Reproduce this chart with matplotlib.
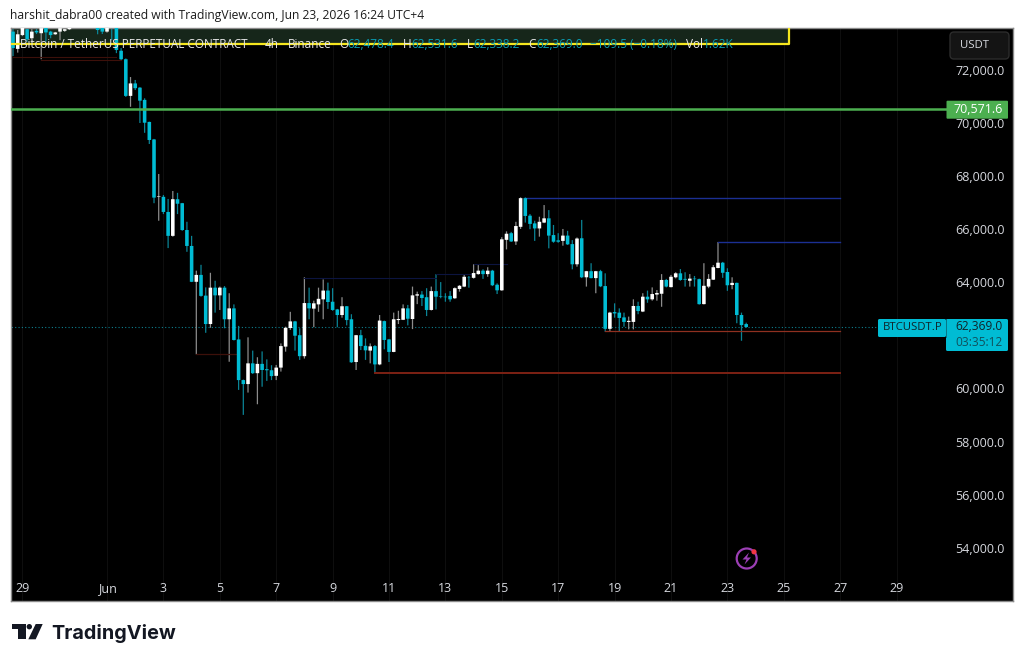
"""
BTCUSDT.P 4h candles with support / resistance levels, TradingView snapshot style.
"""
import numpy as np
import matplotlib
matplotlib.use("Agg")
import matplotlib.pyplot as plt
from matplotlib.patches import Circle, FancyBboxPatch, Polygon, Rectangle

FIRST_BAR = -20  # bar number of the first candle, bar 0 opens on Jun 1

opens = [
    73490, 72840, 73360, 73580, 73240, 73520, 73430, 73630, 73490, 73390, 73490, 73520, 73580,
    73800, 74100, 74300, 74150, 74250, 73900, 73700, 73490, 74000, 73700, 72770, 72450, 71070,
    71540, 71380, 70920, 70090, 69430, 67280, 67270,
    66700, 65800, 67180, 67030, 66020, 65420, 64070, 64330, 63550,
    62480, 63850, 63560, 63850, 62660, 63070, 61900, 60370, 60220, 61000,
    60630, 60980, 60780, 60740, 60530, 60840, 61630, 62330, 62580, 62060,
    61270, 63270, 63060, 63220, 63410, 63740, 63320, 63030, 62820, 63150,
    62660, 61050, 62060, 61660, 61480, 61650, 60960, 62590, 61900, 61430,
    62630, 62640, 63070, 62670, 63550, 63590, 63490, 63010, 63720, 63520,
    63510, 63540, 63450, 63800, 63890, 64250, 64220, 64360, 64490, 64360,
    64490, 63960, 63750, 65650, 65900, 65590, 66140, 67220, 66560, 66270,
    66080, 66300, 66460, 65830, 65630, 65610, 65810, 65490, 64730, 65710,
    64240, 64470, 64210, 64470, 63910, 62300, 62930, 62910, 62730, 62560,
    62560, 63160, 62950, 63510, 63410, 63590, 63620, 64140, 63870, 64240,
    64390, 64180, 64110, 64190, 64170, 63230, 63890, 64150, 64590, 64790,
    64440, 63950, 64030, 62820, 62478.4,
]
highs = [
    73800, 73550, 73900, 73800, 73600, 73650, 73850, 73800, 73520, 73480, 73800, 73680, 73700,
    74300, 74500, 74600, 74400, 74450, 74000, 73900, 73900, 74200, 73900, 72870, 72480, 71780,
    71670, 71400, 70980, 70100, 69450, 68130, 67340,
    67190, 67490, 67420, 67040, 66330, 65800, 64490, 64710, 63860,
    64410, 64110, 63890, 63910, 63640, 63220, 62410, 60390, 61980, 61480,
    61230, 61450, 61150, 60930, 60940, 61750, 62380, 62940, 62600, 62320,
    64240, 63850, 63360, 63850, 64160, 64040, 63830, 63050, 63490, 63160,
    62850, 62070, 62260, 61940, 61750, 61690, 62820, 62610, 61920, 62910,
    62980, 63220, 63200, 63890, 63700, 63720, 63830, 63890, 64360, 64060,
    63640, 63720, 63860, 63950, 64330, 64290, 64730, 64700, 64540, 64620,
    64520, 64010, 65750, 65970, 65950, 66330, 67250, 67250, 66620, 66370,
    66520, 66960, 66770, 66210, 65900, 66060, 65990, 65640, 65740, 66400,
    64480, 64770, 64480, 64520, 64390, 62940, 63260, 63070, 62910, 62760,
    63410, 63320, 63640, 63740, 63860, 63760, 64360, 64180, 64330, 64430,
    64550, 64430, 64360, 64290, 64190, 64770, 64360, 64700, 65570, 64820,
    64580, 64240, 64040, 62910, 62531.6,
]
lows = [
    72570, 72700, 73320, 73110, 73150, 73400, 72450, 73110, 73240, 73370, 73170, 73480, 73550,
    73700, 73900, 74000, 73900, 73800, 73390, 73400, 73450, 73170, 72680, 72420, 71030, 70660,
    71290, 70050, 69680, 69260, 67030, 66370, 66620,
    65340, 65770, 66620, 65990, 65200, 64060, 61340, 63510, 62150,
    62340, 62910, 63010, 62320, 61060, 61860, 60000, 59060, 59900, 60600,
    59460, 60120, 60340, 60370, 60370, 60690, 61440, 62260, 61480, 61130,
    61180, 62660, 62360, 62940, 62660, 63050, 62980, 62360, 62720, 62430,
    61020, 60750, 61500, 61130, 61000, 60650, 60930, 61530, 61050, 61420,
    62480, 62630, 62430, 62290, 63230, 63160, 62780, 62990, 63030, 63450,
    63320, 63320, 63430, 63700, 63870, 63850, 64190, 64340, 64180, 64260,
    63910, 63610, 63730, 65290, 65570, 65460, 66060, 66300, 66050, 65610,
    65770, 66280, 65330, 65540, 65540, 65430, 65460, 64540, 64640, 64210,
    63890, 64200, 63640, 63870, 62190, 62210, 62720, 62210, 62380, 62280,
    62280, 62850, 62930, 63280, 63360, 63360, 63130, 63860, 63860, 64200,
    64110, 63890, 63890, 63890, 63210, 63220, 63830, 64140, 64580, 64220,
    63730, 63790, 62510, 61850, 62338.2,
]
closes = [
    72870, 73390, 73700, 73200, 73490, 73460, 73620, 73460, 73360, 73460, 73620, 73580, 73640,
    74100, 74300, 74150, 74250, 73900, 73550, 73490, 73700, 73700, 72800, 72450, 71070, 71540,
    71360, 70890, 70060, 69410, 67240, 67300, 66700,
    65800, 67180, 67010, 66020, 65420, 64070, 64330, 63540, 62480,
    63850, 63560, 63850, 62660, 63070, 61880, 60370, 60220, 61000, 60630,
    60980, 60750, 60740, 60520, 60840, 61650, 62340, 62580, 62040, 61270,
    63270, 63070, 63260, 63430, 63740, 63310, 63010, 62820, 63150, 62630,
    61040, 62060, 61650, 61490, 61640, 60960, 62610, 61880, 61430, 62660,
    62670, 63070, 62680, 63560, 63600, 63460, 63010, 63720, 63510, 63500,
    63490, 63410, 63830, 63920, 64260, 64240, 64400, 64490, 64360, 64490,
    63940, 63750, 65670, 65880, 65590, 66170, 67220, 66550, 66250, 66080,
    66330, 66460, 65810, 65580, 65580, 65810, 65480, 64730, 65700, 64240,
    64470, 64210, 64470, 63900, 62300, 62910, 62880, 62710, 62560, 62600,
    63160, 62970, 63510, 63410, 63610, 63650, 64140, 63890, 64260, 64390,
    64140, 64150, 64190, 64170, 63230, 63920, 64180, 64620, 64790, 64410,
    63940, 64030, 62820, 62440, 62369.0,
]

price_ticks = [72000, 70000, 68000, 66000, 64000, 62000, 60000, 58000, 56000, 54000]
day_labels = ["29", "Jun", "3", "5", "7", "9", "11", "13", "15", "17", "19", "21", "23", "25", "27", "29"]
day_offsets = [-3, 0, 2, 4, 6, 8, 10, 12, 14, 16, 18, 20, 22, 24, 26, 28]
BARS_PER_DAY = 6

# (first bar, last bar, price, colour, width)
level_lines = [
    (89, 156, 67220, "#1b2f93", 1.0),
    (130, 156, 65570, "#1b2f93", 1.0),
    (57, 156, 60650, "#7d2114", 1.4),
    (106, 156, 62200, "#8f3020", 0.9),
    (42, 70, 64220, "#0c1440", 0.8),
    (70, 78, 64350, "#0c1440", 0.8),
    (78, 85, 64730, "#0c1440", 0.8),
    (19, 28, 61340, "#3d100a", 0.9),
    (-20, 2, 72550, "#3d100a", 0.8),
    (-14, 3, 72420, "#3d100a", 0.8),
]
green_level = 70571.6
last_price = closes[-1]

TEAL = "#00bcd4"
TEAL_WICK = "#0a8496"
TEAL_VALUE = "#0a9db2"
WHITE_WICK = "#8c8c8c"
AXIS_TEXT = "#d6d8de"
TEXT_FONT = ["Open Sans", "DejaVu Sans"]

plt.rcParams["font.family"] = TEXT_FONT

W, H = 1024, 663
fig = plt.figure(figsize=(W / 100, H / 100), dpi=100, facecolor="white")
ax = fig.add_axes([11 / W, 1 - 600.5 / H, 1002 / W, 572.2 / H], facecolor="black")
ax.set_xlim(-20.43, 192.77)
ax.set_ylim(52071, 73615)
ax.set_xticks([])
ax.set_yticks([])
for s in ax.spines.values():
    s.set_color("#8a8a8a")
    s.set_linewidth(1.0)

# faint session grid
for d in day_offsets:
    ax.axvline(d * BARS_PER_DAY, color="#0e0e0e", lw=0.8, zorder=0)

# yellow header box behind the candles
ax.add_patch(Rectangle((-21, 73010), 21 + 145.1, 1000, fc="#16261a", ec="none", zorder=1))
ax.plot([-21, 145.1, 145.1], [73010, 73010, 74000], color="#f5e61e", lw=1.6, zorder=5)

# candles, unsnapped so thin bodies keep their soft edges
bars = np.arange(len(opens)) + FIRST_BAR
o, h, l, c = map(np.array, (opens, highs, lows, closes))
up = c >= o
ax.vlines(bars[up], l[up], h[up], color=WHITE_WICK, lw=0.9, zorder=2, snap=False)
ax.vlines(bars[~up], l[~up], h[~up], color=TEAL_WICK, lw=0.9, zorder=2, snap=False)
for box in ax.bar(bars[up], (c - o)[up], bottom=o[up], width=0.76, color="white", linewidth=0, zorder=3):
    box.set_snap(False)
for box in ax.bar(bars[~up], (c - o)[~up], bottom=o[~up], width=0.76, color=TEAL, linewidth=0, zorder=3):
    box.set_snap(False)

for x0, x1, price, col, lw in level_lines:
    ax.plot([x0, x1], [price, price], color=col, lw=lw, zorder=2.5)

ax.plot([-21, 178.7], [green_level, green_level], color="#4caf50", lw=1.8, zorder=4)
ax.plot([-21, 163.8], [last_price, last_price], color="#0e7f8f", lw=0.8, ls=(0, (1, 2)), zorder=1.5)

# price and date scales
y_tr = ax.get_yaxis_transform()
x_tr = ax.get_xaxis_transform()
for p in price_ticks:
    ax.text(0.9915, p, f"{p:,.1f}", transform=y_tr, ha="right", va="center",
            color=AXIS_TEXT, fontsize=9, zorder=6)
for lab, d in zip(day_labels, day_offsets):
    ax.text(d * BARS_PER_DAY, 0.0155, lab, transform=x_tr, ha="center", va="baseline",
            color=AXIS_TEXT, fontsize=9, zorder=6)

# everything below is page furniture, placed in pixels
page = fig.add_axes([0, 0, 1, 1], facecolor="none")
page.set_xlim(0, W)
page.set_ylim(H, 0)
page.axis("off")

page.text(10, 15.5, "harshit_dabra00 created with TradingView.com, Jun 23, 2026 16:24 UTC+4",
          color="#1c1c1c", fontsize=8.7, va="center", ha="left")

# legend row, white names with teal values
legend_bits = [
    (20, "Bitcoin / TetherUS PERPETUAL CONTRACT", "#e8e8e8"),
    (265, "4h", "#e8e8e8"), (288, "Binance", "#e8e8e8"),
    (339, "O", "#e8e8e8"), (347, "62,478.4", TEAL_VALUE),
    (403, "H", "#e8e8e8"), (411, "62,531.6", TEAL_VALUE),
    (467, "L", "#e8e8e8"), (473, "62,338.2", TEAL_VALUE),
    (528, "C", "#e8e8e8"), (536, "62,369.0", TEAL_VALUE),
    (590, "\u2212109.5 (\u22120.18%)", TEAL_VALUE),
    (686, "Vol", "#e8e8e8"), (703, "1.62K", TEAL_VALUE),
]
for x, txt, col in legend_bits:
    page.text(x, 44, txt, color=col, fontsize=8.5, va="center", ha="left")

# USDT button
page.add_patch(FancyBboxPatch((950, 32), 59, 27, boxstyle="round,pad=0,rounding_size=4",
                              fc="#141414", ec="#2c2c2c", lw=1))
page.text(960, 45.5, "USDT", color=AXIS_TEXT, fontsize=8.2, va="center", ha="left")

# level tags on the price scale
page.add_patch(FancyBboxPatch((946.5, 100.7), 61.5, 18, boxstyle="round,pad=0,rounding_size=1",
                              fc="#4caf50", ec="none"))
page.text(1003, 109.5, f"{green_level:,.1f}", color="white", fontsize=9, va="center", ha="right")

page.add_patch(FancyBboxPatch((878, 319), 68, 18, boxstyle="round,pad=0,rounding_size=1.5",
                              fc=TEAL, ec="none"))
page.add_patch(FancyBboxPatch((946, 319), 62, 32, boxstyle="round,pad=0,rounding_size=1.5",
                              fc=TEAL, ec="none"))
page.plot([946, 946], [319, 337], color="#0a6a78", lw=0.6)
page.text(883, 328, "BTCUSDT.P", color="#10242a", fontsize=8.2, va="center", ha="left")
page.text(1003, 327, f"{last_price:,.1f}", color="#10242a", fontsize=8.6, va="center", ha="right")
page.text(1003, 343, "03:35:12", color="#10505c", fontsize=8.6, va="center", ha="right")

# lightning badge
page.add_patch(Circle((746.7, 558.5), 10, fc="none", ec="#9c3fb5", lw=1.6))
page.add_patch(Polygon([(749, 552.5), (742.5, 559.5), (746.5, 559.5), (744.5, 564.5),
                        (751, 557.5), (747, 557.5)], fc="#9c3fb5", ec="none"))
page.add_patch(Circle((754, 551.8), 2.6, fc="#f23645", ec="none"))

# TradingView logo
logo = "#131722"
page.add_patch(Polygon([(12.3, 624), (26, 624), (26, 639.3), (18.3, 639.3), (18.3, 629.3), (12.3, 629.3)],
                       fc=logo, ec="none"))
page.add_patch(Circle((29.3, 626.7), 2.7, fc=logo, ec="none"))
page.add_patch(Polygon([(35.7, 624), (42.7, 624), (35.7, 639.3), (28.3, 639.3)], fc=logo, ec="none"))
page.text(51.5, 639.3, "TradingView", color=logo, family=["Inter", "DejaVu Sans"], fontsize=14.3,
          fontweight="bold", va="baseline", ha="left")

fig.savefig("out.png", dpi=100, facecolor="white")
